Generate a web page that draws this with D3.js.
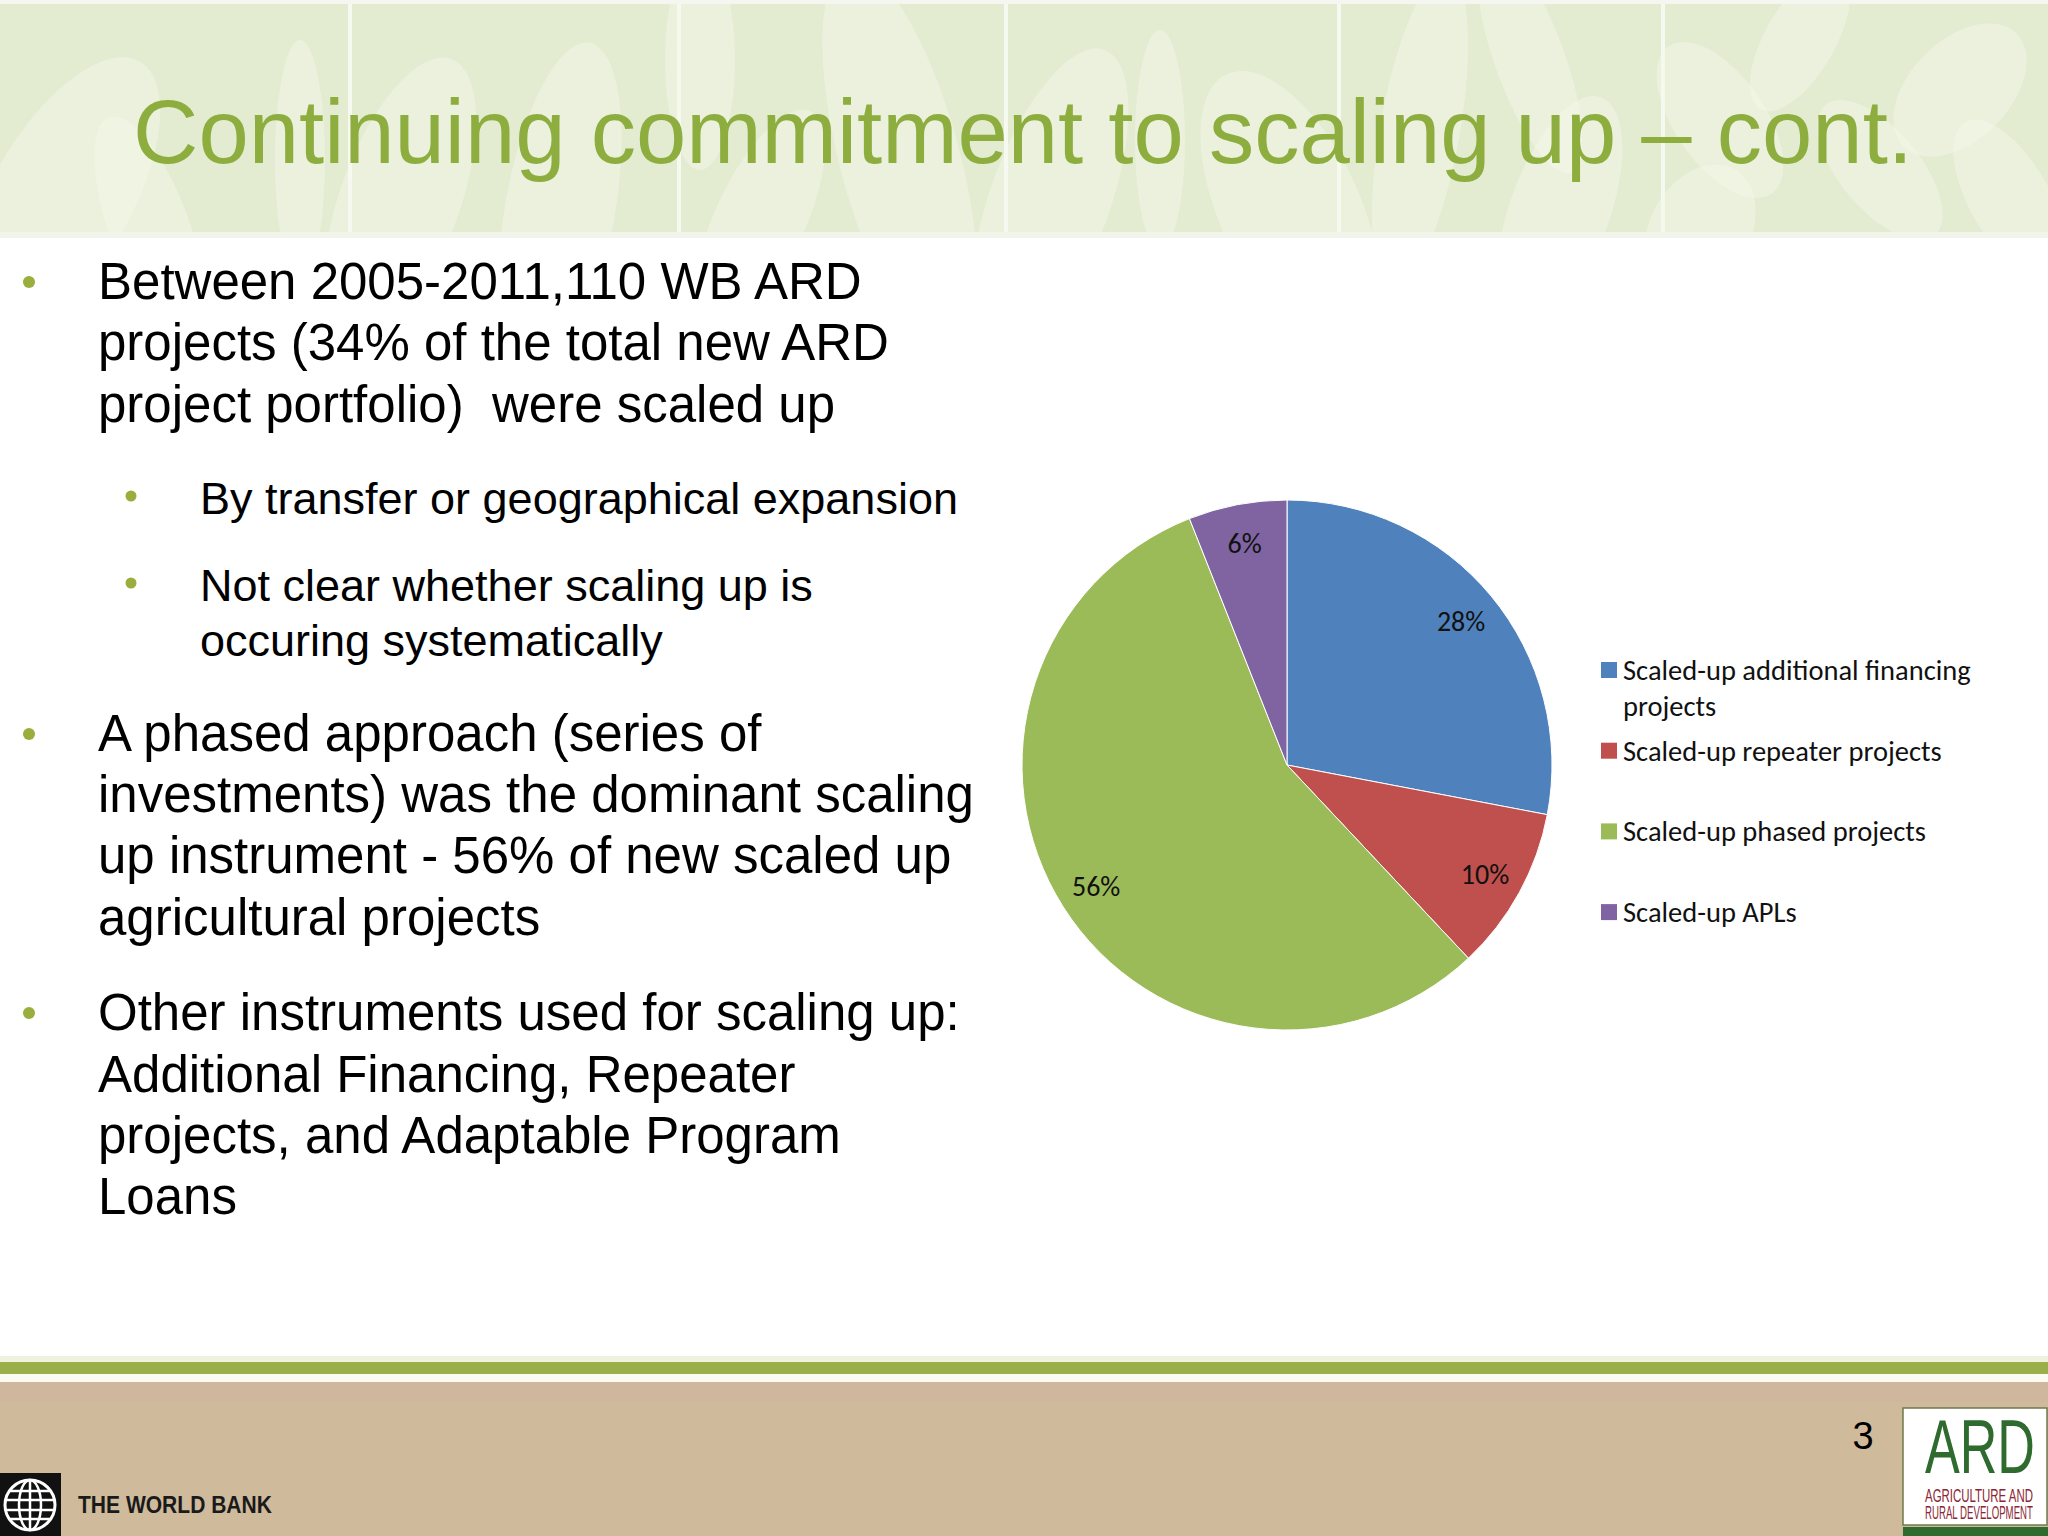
<!DOCTYPE html>
<html>
<head>
<meta charset="utf-8">
<script src="https://cdn.jsdelivr.net/npm/d3@7"></script>
<style>
  html, body { margin: 0; padding: 0; background: #ffffff; }
  svg { display: block; }
  text { white-space: pre; }
</style>
</head>
<body>
<svg id="slide" width="2048" height="1536"></svg>
<script>
// ---------------- DATA ----------------
const categories = [
  "Scaled-up additional financing projects",
  "Scaled-up repeater projects",
  "Scaled-up phased projects",
  "Scaled-up APLs"
];
const values = [28, 10, 56, 6];
const valueLabels = ["28%", "10%", "56%", "6%"];

const titleText = "Continuing commitment to scaling up \u2013 cont.";
const bullets = [
  { level: 0, lines: ["Between 2005-2011,110 WB ARD", "projects (34% of the total new ARD", "project portfolio)  were scaled up"] },
  { level: 1, lines: ["By transfer or geographical expansion"] },
  { level: 1, lines: ["Not clear whether scaling up is", "occuring systematically"] },
  { level: 0, lines: ["A phased approach (series of", "investments) was the dominant scaling", "up instrument - 56% of new scaled up", "agricultural projects"] },
  { level: 0, lines: ["Other instruments used for scaling up:", "Additional Financing, Repeater", "projects, and Adaptable Program", "Loans"] }
];
const pageNumber = "3";

// ---------------- STYLE ----------------
const sliceColors = ["#4f81bd", "#c0504d", "#9bbb59", "#8064a2"];
const green = "#8dae3e";
const bulletGreen = "#99ae3c";

const svg = d3.select("#slide");

// ---------------- BANNER ----------------
const banner = svg.append("g");
banner.append("rect").attr("x", 0).attr("y", 0).attr("width", 2048).attr("height", 237).attr("fill", "#e3ebd1");
const defs = svg.append("defs");
defs.append("clipPath").attr("id", "bannerClip").append("rect").attr("x", 0).attr("y", 0).attr("width", 2048).attr("height", 237);
const leafG = banner.append("g").attr("clip-path", "url(#bannerClip)");
const leaves = [
  [60, 200, 70, 160, 30], [150, 230, 40, 120, -20], [300, 160, 25, 120, 0], [400, 200, 60, 150, 20],
  [560, 210, 55, 170, 10], [700, 60, 35, 110, 0], [760, 220, 45, 120, 25], [900, 160, 60, 200, -15],
  [1050, 200, 60, 160, 20], [1160, 140, 25, 110, 0], [1290, 210, 70, 150, -25], [1420, 130, 40, 160, 10],
  [1530, 60, 35, 120, -20], [1560, 210, 50, 120, 20], [1720, 120, 45, 90, -35], [1800, 40, 35, 80, 30],
  [1880, 170, 40, 85, -40], [1960, 90, 50, 80, 45], [2010, 200, 40, 90, -30], [1700, 230, 50, 70, 30]
];
leafG.selectAll("ellipse").data(leaves).join("ellipse")
  .attr("cx", d => d[0]).attr("cy", d => d[1]).attr("rx", d => d[2]).attr("ry", d => d[3])
  .attr("transform", d => `rotate(${d[4]},${d[0]},${d[1]})`)
  .attr("fill", "#f3f7ea").attr("opacity", 0.5);
leafG.selectAll("line.sep").data([350, 679, 1006, 1339, 1663]).join("line")
  .attr("x1", d => d).attr("x2", d => d).attr("y1", 0).attr("y2", 237)
  .attr("stroke", "#f6f9f0").attr("stroke-width", 4);
banner.append("rect").attr("x", 0).attr("y", 0).attr("width", 2048).attr("height", 4).attr("fill", "#f4f6ef");
banner.append("rect").attr("x", 0).attr("y", 232).attr("width", 2048).attr("height", 6).attr("fill", "#f1f4ea");

// Title
const title = svg.append("text")
  .attr("x", 1023).attr("y", 163)
  .attr("text-anchor", "middle")
  .attr("font-family", "'Liberation Sans', Arial, sans-serif")
  .attr("font-size", 92)
  .attr("fill", green)
  .text(titleText);
const tw = title.node().getComputedTextLength();
title.attr("font-size", 92 * 1780 / tw);

// ---------------- BODY TEXT ----------------
const body = svg.append("g").attr("font-family", "'Liberation Sans', Arial, sans-serif").attr("fill", "#000");
const lineBaselines = [
  [299, 360, 422],
  [514],
  [601, 656],
  [751, 812, 873, 935],
  [1030, 1092, 1153, 1214]
];
bullets.forEach((b, i) => {
  const fs = b.level === 0 ? 51 : 45;
  const x = b.level === 0 ? 98 : 200;
  const bx = b.level === 0 ? 29 : 131;
  const g = body.append("g");
  g.append("circle").attr("cx", bx).attr("cy", lineBaselines[i][0] - (b.level === 0 ? 17 : 18))
    .attr("r", b.level === 0 ? 6 : 5.5).attr("fill", bulletGreen);
  b.lines.forEach((ln, j) => {
    g.append("text").attr("x", x).attr("y", lineBaselines[i][j]).attr("font-size", fs).text(ln);
  });
});

// ---------------- PIE ----------------
const cx = 1287, cy = 765, R = 265;
const pie = d3.pie().sort(null).value(d => d)(values);
const arc = d3.arc().innerRadius(0).outerRadius(R);
const labelArc = d3.arc().innerRadius(226).outerRadius(226);
const pg = svg.append("g").attr("transform", `translate(${cx},${cy})`);
pg.selectAll("path").data(pie).join("path")
  .attr("d", arc)
  .attr("fill", (d, i) => sliceColors[i])
  .attr("stroke", "#ffffff").attr("stroke-width", 1);
pg.selectAll("text").data(pie).join("text")
  .attr("transform", d => `translate(${labelArc.centroid(d)})`)
  .attr("text-anchor", "middle")
  .attr("dy", "0.35em")
  .attr("font-family", "Carlito, Lato, 'Open Sans', sans-serif")
  .attr("font-size", 28)
  .attr("fill", "#111")
  .text((d, i) => valueLabels[i]);

// ---------------- LEGEND ----------------
const lg = svg.append("g").attr("font-family", "Carlito, Lato, 'Open Sans', sans-serif").attr("font-size", 28.5).attr("fill", "#111");
const maxW = 380;
categories.forEach((c, i) => {
  const y = 670 + i * 80.7;
  lg.append("rect").attr("x", 1601).attr("y", y - 8).attr("width", 16).attr("height", 16).attr("fill", sliceColors[i]);
  const words = c.split(" ");
  let lines = [], cur = "";
  const tmp = lg.append("text").attr("x", 0).attr("y", 0).attr("opacity", 0);
  words.forEach(w => {
    const test = cur ? cur + " " + w : w;
    tmp.text(test);
    if (tmp.node().getComputedTextLength() > maxW && cur) { lines.push(cur); cur = w; }
    else cur = test;
  });
  lines.push(cur);
  tmp.remove();
  lines.forEach((ln, j) => {
    lg.append("text").attr("x", 1623).attr("y", y + 10 + j * 36).text(ln);
  });
});

// ---------------- FOOTER ----------------
const ft = svg.append("g");
ft.append("rect").attr("x", 0).attr("y", 1356).attr("width", 2048).attr("height", 6).attr("fill", "#eef2df");
ft.append("rect").attr("x", 0).attr("y", 1362).attr("width", 2048).attr("height", 12).attr("fill", "#9aae4a");
ft.append("rect").attr("x", 0).attr("y", 1374).attr("width", 2048).attr("height", 8).attr("fill", "#fbfaf3");
ft.append("rect").attr("x", 0).attr("y", 1382).attr("width", 2048).attr("height", 154).attr("fill", "#cfba9c");
ft.append("rect").attr("x", 0).attr("y", 1382).attr("width", 2048).attr("height", 20).attr("fill", "#cdb59d").attr("opacity", 0.6);

ft.append("text").attr("x", 1863).attr("y", 1449).attr("text-anchor", "middle")
  .attr("font-family", "'Liberation Sans', Arial, sans-serif").attr("font-size", 38).attr("fill", "#000")
  .text(pageNumber);

// helper: horizontally compressed text fitted to a width
function fittedText(parent, x, y, size, width, fill, weight, str) {
  const t = parent.append("text")
    .attr("font-family", "'Liberation Sans', Arial, sans-serif")
    .attr("font-size", size).attr("fill", fill)
    .attr("font-weight", weight || "normal")
    .text(str);
  const w = t.node().getComputedTextLength();
  t.attr("transform", `translate(${x},${y}) scale(${width / w},1)`);
  return t;
}

// World Bank logo
const wb = ft.append("g");
wb.append("rect").attr("x", 0).attr("y", 1473).attr("width", 61).attr("height", 63).attr("fill", "#111");
const gcx = 30, gcy = 1505, gr = 25;
wb.append("circle").attr("cx", gcx).attr("cy", gcy).attr("r", gr).attr("fill", "none").attr("stroke", "#fff").attr("stroke-width", 3);
wb.append("ellipse").attr("cx", gcx).attr("cy", gcy).attr("rx", 11).attr("ry", gr).attr("fill", "none").attr("stroke", "#fff").attr("stroke-width", 2.5);
wb.append("line").attr("x1", gcx).attr("x2", gcx).attr("y1", gcy - gr).attr("y2", gcy + gr).attr("stroke", "#fff").attr("stroke-width", 2.5);
[-14, -5, 5, 14].forEach(o => {
  const hw = Math.sqrt(gr * gr - o * o);
  wb.append("line").attr("x1", gcx - hw).attr("x2", gcx + hw).attr("y1", gcy + o).attr("y2", gcy + o).attr("stroke", "#fff").attr("stroke-width", 2.5);
});
fittedText(wb, 78, 1513, 23, 194, "#1a1a1a", "bold", "THE WORLD BANK");

// ARD logo
const ard = ft.append("g");
ard.append("rect").attr("x", 1903).attr("y", 1408).attr("width", 144).attr("height", 117).attr("fill", "#ffffff").attr("stroke", "#6b7b4e").attr("stroke-width", 1.5);
ard.append("rect").attr("x", 1903).attr("y", 1527).attr("width", 145).attr("height", 9).attr("fill", "#2f6b2f");
fittedText(ard, 1925, 1473, 76, 110, "#2f6b2f", "normal", "ARD");
fittedText(ard, 1925, 1502, 18, 108, "#8b2634", "normal", "AGRICULTURE AND");
fittedText(ard, 1925, 1519, 18, 108, "#8b2634", "normal", "RURAL DEVELOPMENT");
</script>
</body>
</html>
